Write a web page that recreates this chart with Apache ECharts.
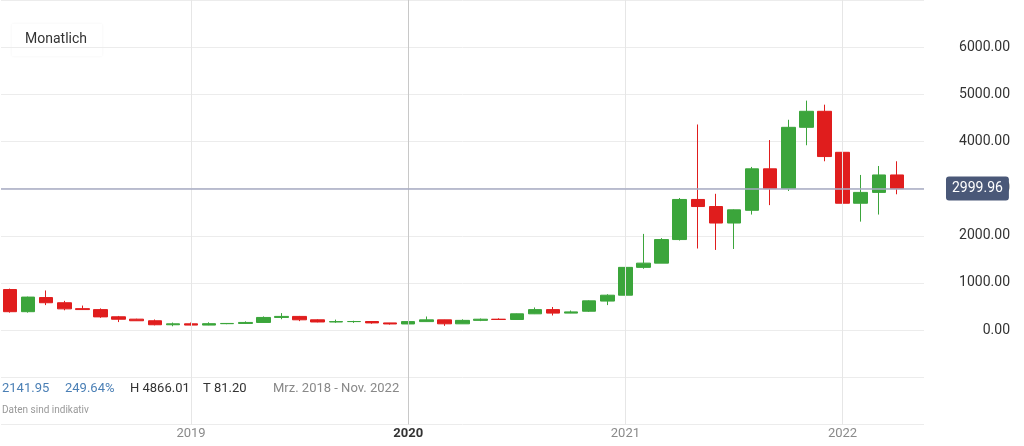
<!DOCTYPE html>
<html><head><meta charset="utf-8">
<script src="https://cdn.jsdelivr.net/npm/echarts@6/dist/echarts.min.js"></script>
<style>html,body{margin:0;padding:0;background:#fff}#c{width:1024px;height:446px}</style>
</head><body><div id="c"></div>
<script>
const months = ['2018-02','2018-03','2018-04','2018-05','2018-06','2018-07','2018-08','2018-09','2018-10','2018-11','2018-12',
'2019-01','2019-02','2019-03','2019-04','2019-05','2019-06','2019-07','2019-08','2019-09','2019-10','2019-11','2019-12',
'2020-01','2020-02','2020-03','2020-04','2020-05','2020-06','2020-07','2020-08','2020-09','2020-10','2020-11','2020-12',
'2021-01','2021-02','2021-03','2021-04','2021-05','2021-06','2021-07','2021-08','2021-09','2021-10','2021-11','2021-12',
'2022-01','2022-02','2022-03','2022-04','2022-05'];
// [open, close, low, high]
const ohlc = [
[1120,860,580,1160],[860,390,370,880],[390,700,370,710],[690,580,530,840],[580,450,420,620],[455,435,430,520],
[434,280,260,460],[282,230,170,300],[232,198,195,240],[198,113,100,225],[113,133,81.2,160],
[133,106,100,160],[106,136,102,165],[136,141,125,148],[141,162,140,185],[162,268,160,290],[268,290,230,360],
[290,218,190,300],[218,172,165,230],[172,180,155,222],[180,182,153,198],[182,152,135,190],[152,130,117,153],
[130,180,127,185],[180,217,175,288],[217,133,90,220],[133,206,130,228],[206,231,190,245],[231,225,215,250],
[225,345,222,350],[345,434,340,480],[434,360,310,490],[360,386,370,415],[400,620,385,630],[615,740,530,760],
[740,1330,720,1470],[1330,1420,1300,2040],[1420,1920,1420,1950],[1920,2770,1900,2800],[2770,2620,1730,4360],
[2620,2270,1700,2890],[2270,2550,1720,2560],[2540,3420,2450,3460],[3420,3000,2650,4030],[3000,4300,2950,4460],
[4300,4640,3920,4866],[4640,3680,3580,4780],[3770,2690,2160,3890],[2690,2920,2300,3290],[2920,3290,2450,3480],
[3290,3000,2880,3580],['-','-','-','-']];
const yearTicks = ['2019-01','2020-01','2021-01','2022-01'];
const lastPrice = 2999.96;
const stats = ['2141.95','249.64%','H 4866.01','T 81.20','Mrz. 2018 - Nov. 2022'];

const chart = echarts.init(document.getElementById('c'));
chart.setOption({
  animation:false,
  grid:{left:1,right:100,top:0,bottom:21.6},
  xAxis:{type:'category',data:months,boundaryGap:true,min:'2018-03',
    axisLine:{show:false},axisTick:{show:false},splitLine:{show:false},
    axisLabel:{interval:(i,v)=>v.endsWith('-01'),margin:3,fontFamily:'Roboto',fontSize:13,color:'#8a8a8a',
      formatter:v=>v==='2020-01'?'{b|2020}':v.slice(0,4),rich:{b:{fontWeight:'bold',color:'#333',fontSize:13,fontFamily:'Roboto'}}}},
  yAxis:{type:'value',position:'right',min:-2000,max:7000,interval:1000,
    axisLine:{show:false},axisTick:{show:false},
    splitLine:{lineStyle:{color:'#ececec'}},
    axisLabel:{align:'right',margin:86,fontFamily:'Roboto',fontSize:14,color:'#333',
      formatter:v=>(v>=0&&v<=6000)?v.toFixed(2):''}},
  series:[{type:'candlestick',data:ohlc,barWidth:14,
    itemStyle:{color:'#3ba53b',color0:'#e01d1d',borderColor:'#3ba53b',borderColor0:'#e01d1d',borderWidth:1},
    markLine:{silent:true,symbol:'none',animation:false,
      data:[
        ...yearTicks.map(t=>({xAxis:t,label:{show:false},lineStyle:{type:'solid',width:1,color:t==='2020-01'?'#c8c8c8':'#e6e6e6'}})),
        {yAxis:lastPrice,lineStyle:{type:'solid',width:1.5,color:'#a7abc3'},
         label:{show:true,position:'end',distance:22,formatter:lastPrice.toFixed(2),color:'#fff',backgroundColor:'#4a5878',
           padding:[5,6],borderRadius:3,fontFamily:'Roboto',fontSize:14}}
      ]}}],
  graphic:[
    {type:'rect',left:12,top:24,shape:{width:90,height:32},style:{fill:'#fff',shadowBlur:3,shadowColor:'rgba(0,0,0,0.05)'}},
    {type:'text',left:25,top:32,style:{text:'Monatlich',font:'14px Roboto',fill:'#333'}},
    {type:'text',left:2,top:382,style:{text:stats[0],font:'13px Roboto',fill:'#4a7fb5'}},
    {type:'text',left:65,top:382,style:{text:stats[1],font:'13px Roboto',fill:'#4a7fb5'}},
    {type:'text',left:130,top:382,style:{text:stats[2],font:'13px Roboto',fill:'#333'}},
    {type:'text',left:203,top:382,style:{text:stats[3],font:'13px Roboto',fill:'#333'}},
    {type:'text',left:273,top:382,style:{text:stats[4],font:'13px Roboto',fill:'#888'}},
    {type:'text',left:2,top:405,style:{text:'Daten sind indikativ',font:'10px Roboto',fill:'#999'}}
  ]
});
</script></body></html>
